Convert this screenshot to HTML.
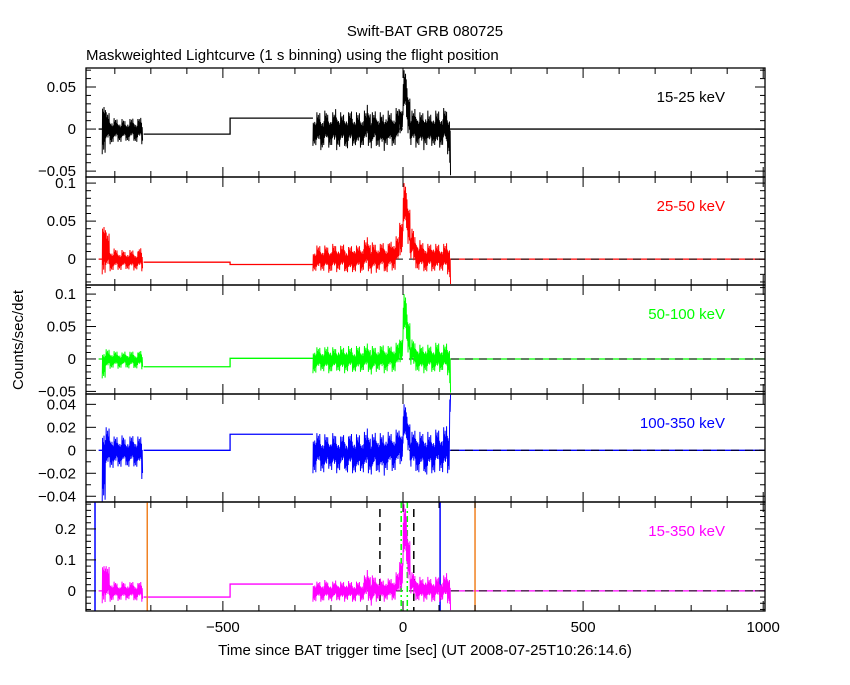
<!DOCTYPE html>
<html><head><meta charset="utf-8"><style>
body{margin:0;background:#fff;width:850px;height:680px;overflow:hidden}
svg text{font-family:"Liberation Sans",sans-serif;font-size:15px}
</style></head><body>
<svg id="chart" width="850" height="680" xmlns="http://www.w3.org/2000/svg">
<text x="425" y="36" text-anchor="middle">Swift-BAT GRB 080725</text>
<text x="86" y="60">Maskweighted Lightcurve (1 s binning) using the flight position</text>
<text x="0" y="0" text-anchor="middle" transform="translate(23,340) rotate(-90)">Counts/sec/det</text>
<text x="425" y="655" text-anchor="middle">Time since BAT trigger time [sec] (UT 2008-07-25T10:26:14.6)</text>
<g id="plots"></g>
</svg>
<script>
// time bins (10 s) for early and late segments
const earlyT = [-835,-825,-815,-805,-795,-785,-775,-765,-755,-745,-735,-725];
const lateT = [-250,-240,-230,-220,-210,-200,-190,-180,-170,-160,-150,-140,-130,-120,-110,-100,-90,-80,-70,-60,-50,-40,-30,-20,-10,0,10,20,30,40,50,60,70,80,90,100,110,120,130];
// panel 1 15-25 keV
const p1EarlyHi=[0.045,0.02,0.015,0.013,0.012,0.012,0.01,0.012,0.013,0.012,0.014,0.01];
const p1EarlyLo=[-0.03,-0.02,-0.018,-0.016,-0.015,-0.016,-0.014,-0.015,-0.014,-0.016,-0.015,-0.018];
const p1LateHi=[0.018,0.02,0.018,0.022,0.018,0.02,0.025,0.02,0.018,0.02,0.022,0.018,0.02,0.018,0.022,0.03,0.02,0.022,0.02,0.018,0.022,0.02,0.02,0.025,0.03,0.07,0.05,0.022,0.025,0.02,0.02,0.022,0.018,0.02,0.022,0.02,0.025,0.022,0.028];
const p1LateLo=[-0.02,-0.022,-0.025,-0.02,-0.022,-0.02,-0.025,-0.022,-0.02,-0.024,-0.022,-0.02,-0.025,-0.022,-0.02,-0.02,-0.024,-0.02,-0.022,-0.026,-0.02,-0.022,-0.02,-0.02,-0.005,0.015,-0.005,-0.02,-0.022,-0.02,-0.025,-0.02,-0.022,-0.02,-0.025,-0.022,-0.02,-0.03,-0.057];
// panel 2 25-50 keV
const p2EarlyHi=[0.063,0.035,0.015,0.014,0.012,0.012,0.01,0.012,0.012,0.01,0.015,0.01];
const p2EarlyLo=[-0.02,-0.02,-0.016,-0.015,-0.014,-0.015,-0.013,-0.014,-0.015,-0.014,-0.015,-0.016];
const p2LateHi=[0.015,0.018,0.016,0.018,0.016,0.02,0.018,0.018,0.02,0.016,0.018,0.02,0.018,0.02,0.025,0.03,0.022,0.02,0.02,0.022,0.02,0.024,0.028,0.03,0.06,0.1,0.08,0.04,0.03,0.025,0.022,0.02,0.02,0.022,0.02,0.018,0.02,0.022,0.018];
const p2LateLo=[-0.016,-0.018,-0.015,-0.016,-0.018,-0.016,-0.017,-0.015,-0.016,-0.018,-0.02,-0.017,-0.016,-0.018,-0.015,-0.016,-0.02,-0.018,-0.015,-0.016,-0.018,-0.017,-0.015,-0.01,0.005,0.035,0.02,0.0,-0.012,-0.015,-0.016,-0.017,-0.015,-0.016,-0.018,-0.015,-0.016,-0.02,-0.034];
// panel 3 50-100 keV
const p3EarlyHi=[0.02,0.015,0.013,0.012,0.012,0.01,0.012,0.011,0.012,0.01,0.013,0.01];
const p3EarlyLo=[-0.03,-0.018,-0.015,-0.014,-0.015,-0.014,-0.013,-0.015,-0.014,-0.015,-0.014,-0.016];
const p3LateHi=[0.02,0.018,0.016,0.018,0.02,0.018,0.016,0.02,0.018,0.02,0.018,0.016,0.02,0.018,0.02,0.025,0.02,0.018,0.02,0.022,0.02,0.02,0.022,0.025,0.04,0.1,0.07,0.03,0.025,0.022,0.02,0.022,0.02,0.02,0.025,0.02,0.022,0.025,0.03];
const p3LateLo=[-0.022,-0.02,-0.018,-0.02,-0.022,-0.02,-0.018,-0.02,-0.022,-0.02,-0.018,-0.02,-0.022,-0.02,-0.018,-0.02,-0.025,-0.02,-0.018,-0.022,-0.02,-0.018,-0.02,-0.015,-0.005,0.03,0.01,-0.01,-0.018,-0.02,-0.022,-0.02,-0.018,-0.02,-0.022,-0.02,-0.018,-0.025,-0.054];
// panel 4 100-350 keV
const p4EarlyHi=[0.032,0.02,0.015,0.012,0.012,0.013,0.01,0.012,0.013,0.012,0.012,0.01];
const p4EarlyLo=[-0.045,-0.02,-0.015,-0.016,-0.014,-0.015,-0.013,-0.015,-0.014,-0.015,-0.016,-0.025];
const p4LateHi=[0.018,0.015,0.012,0.014,0.012,0.015,0.013,0.012,0.014,0.012,0.015,0.013,0.014,0.012,0.016,0.02,0.014,0.016,0.015,0.014,0.016,0.015,0.016,0.018,0.02,0.04,0.03,0.016,0.018,0.016,0.015,0.016,0.014,0.015,0.018,0.016,0.02,0.022,0.025];
const p4LateLo=[-0.02,-0.016,-0.018,-0.02,-0.016,-0.018,-0.02,-0.018,-0.016,-0.02,-0.018,-0.02,-0.022,-0.018,-0.02,-0.02,-0.022,-0.018,-0.02,-0.022,-0.018,-0.016,-0.018,-0.016,-0.012,0.005,0.0,-0.015,-0.018,-0.02,-0.018,-0.022,-0.018,-0.02,-0.016,-0.018,-0.02,-0.02,0.049];
// panel 5 15-350 keV
const p5EarlyHi=[0.12,0.08,0.035,0.03,0.025,0.03,0.025,0.028,0.03,0.025,0.03,0.025];
const p5EarlyLo=[-0.04,-0.04,-0.035,-0.03,-0.032,-0.03,-0.03,-0.028,-0.03,-0.032,-0.03,-0.035];
const p5LateHi=[0.035,0.03,0.03,0.035,0.028,0.03,0.035,0.03,0.03,0.032,0.03,0.028,0.03,0.03,0.05,0.07,0.05,0.045,0.04,0.035,0.04,0.04,0.045,0.06,0.12,0.28,0.2,0.06,0.05,0.045,0.04,0.045,0.04,0.04,0.045,0.04,0.05,0.06,0.05];
const p5LateLo=[-0.035,-0.03,-0.035,-0.032,-0.03,-0.035,-0.03,-0.032,-0.035,-0.03,-0.032,-0.035,-0.03,-0.035,-0.03,-0.032,-0.05,-0.035,-0.03,-0.035,-0.03,-0.032,-0.03,-0.02,0.0,0.08,0.04,-0.01,-0.03,-0.032,-0.035,-0.03,-0.032,-0.035,-0.03,-0.035,-0.03,-0.04,-0.065];
// flat gap levels: [-720..-480], [-480..-250]
const gapLevels=[[-0.006,0.013],[-0.004,-0.007],[-0.012,0.001],[0,0.014],[-0.02,0.022]];
const bandNames=["15-25 keV","25-50 keV","50-100 keV","100-350 keV","15-350 keV"];
const yTickLabels=[["0.05","0","−0.05"],["0.1","0.05","0"],["0.1","0.05","0","−0.05"],["0.04","0.02","0","−0.02","−0.04"],["0.2","0.1","0"]];
const yTickVals=[[0.05,0,-0.05],[0.1,0.05,0],[0.1,0.05,0,-0.05],[0.04,0.02,0,-0.02,-0.04],[0.2,0.1,0]];
const xTickVals=[-500,0,500,1000];
const xTickLabels=["−500","0","500","1000"];
const markerTimes=[-855,-710,-64,30,-5,12,103,200];

const panels=[
 {top:68,bot:177,ymin:-0.057,ymax:0.0726,minor:0.01,color:"#000",eh:p1EarlyHi,el:p1EarlyLo,lh:p1LateHi,ll:p1LateLo},
 {top:177,bot:285,ymin:-0.034,ymax:0.108,minor:0.01,color:"#f00",eh:p2EarlyHi,el:p2EarlyLo,lh:p2LateHi,ll:p2LateLo},
 {top:285,bot:394,ymin:-0.054,ymax:0.114,minor:0.01,color:"#0f0",eh:p3EarlyHi,el:p3EarlyLo,lh:p3LateHi,ll:p3LateLo},
 {top:394,bot:502,ymin:-0.045,ymax:0.049,minor:0.01,color:"#00f",eh:p4EarlyHi,el:p4EarlyLo,lh:p4LateHi,ll:p4LateLo},
 {top:502,bot:611,ymin:-0.065,ymax:0.287,minor:0.02,color:"#f0f",eh:p5EarlyHi,el:p5EarlyLo,lh:p5LateHi,ll:p5LateLo}
];
const X0=86,X1=765,TMIN=-880,TMAX=1005;
function xs(t){return X0+(t-TMIN)/(TMAX-TMIN)*(X1-X0);}
const NS="http://www.w3.org/2000/svg";
const g=document.getElementById("plots");
function mk(tag,attrs,parent){const e=document.createElementNS(NS,tag);for(const k in attrs)e.setAttribute(k,attrs[k]);(parent||g).appendChild(e);return e;}
// fixed visual texture pattern (fraction of envelope reached by successive 1 s samples)
const texture=[1,0.45,0.7,0.35,0.85,0.5,0.6,0.3,0.95,0.4,0.55];
function band(p,ys,T,hi,lo,name){
  let d="";let c=0;
  for(let i=0;i<T.length;i++){
    const t0=T[i],t1=(i+1<T.length?T[i+1]:T[i]+3);
    const n=Math.max(2,Math.round(t1-t0));
    const mid=(hi[i]+lo[i])/2;
    for(let k=0;k<n;k++){
      const t=t0+(t1-t0)*k/n;
      const f=texture[c%texture.length];c++;
      const v=(c%2===0)?mid+(hi[i]-mid)*f:mid+(lo[i]-mid)*f;
      d+=(d?"L":"M")+xs(t).toFixed(2)+","+ys(v).toFixed(1);
    }
  }
  const e=mk("path",{d:d,fill:"none",stroke:p.color,"stroke-width":1});
  
  
}
panels.forEach((p,pi)=>{
  const ys=v=>p.bot-(v-p.ymin)/(p.ymax-p.ymin)*(p.bot-p.top);
  const pg=mk("g",{});
  
  
  const clip=mk("clipPath",{id:"c"+pi});
  mk("rect",{x:X0,y:p.top,width:X1-X0,height:p.bot-p.top},clip);
  const dg=mk("g",{"clip-path":"url(#c"+pi+")"});
  const gl=gapLevels[pi];
  const step=mk("path",{d:"M"+xs(-720)+","+ys(gl[0])+"H"+xs(-480)+"V"+ys(gl[1])+"H"+xs(-250)+"M"+xs(130)+","+ys(0)+"H"+xs(TMAX)+"M"+xs(-845)+","+ys(0)+"H"+xs(-835),fill:"none",stroke:p.color,"stroke-width":1.3},dg);
  
  
  // dashed zero line
  const z=mk("line",{x1:xs(-100),x2:xs(TMAX),y1:ys(0),y2:ys(0),stroke:"#000","stroke-dasharray":"8,6"},dg);
  
  
  if(pi===4){
    const cols=["#00f","#f08020","#000","#000","#0f0","#0f0","#00f","#f08020"];
    const dash=["","","8,6","8,6","6,3,2,3","6,3,2,3","",""];
    markerTimes.forEach((t,i)=>{
      const m=mk("line",{x1:xs(t),x2:xs(t),y1:(i>=2&&i<=3)?509:p.top,y2:p.bot,stroke:cols[i],"stroke-width":1.5,"stroke-dasharray":dash[i]},dg);
      
      
    });
  }
  band(p,ys,earlyT,p.eh,p.el,"early-series");
  band(p,ys,lateT,p.lh,p.ll,"late-series");
  const fr=mk("rect",{x:X0,y:p.top,width:X1-X0,height:p.bot-p.top,fill:"none",stroke:"#000","stroke-width":1.3});
  
  
  for(let t=-800;t<=1000;t+=100){
    const L=(t%500===0)?10:6;
    mk("line",{x1:xs(t),x2:xs(t),y1:p.bot,y2:p.bot-L,stroke:"#000"});
    mk("line",{x1:xs(t),x2:xs(t),y1:p.top,y2:p.top+L,stroke:"#000"});
  }
  for(let v=Math.ceil(p.ymin/p.minor)*p.minor;v<=p.ymax;v+=p.minor){
    const major=yTickVals[pi].some(q=>Math.abs(q-v)<1e-9);
    const L=major?10:5;
    mk("line",{x1:X0,x2:X0+L,y1:ys(v),y2:ys(v),stroke:"#000"});
    mk("line",{x1:X1,x2:X1-L,y1:ys(v),y2:ys(v),stroke:"#000"});
  }
  yTickVals[pi].forEach((v,i)=>{
    const t=mk("text",{x:76,y:ys(v)+5,"text-anchor":"end"});
    t.textContent=yTickLabels[pi][i];
    
    
  });
  const lb=mk("text",{x:725,y:p.top+34,"text-anchor":"end",fill:p.color});
  lb.textContent=bandNames[pi];
  
  
});
xTickVals.forEach((t,i)=>{
  const e=mk("text",{x:xs(t),y:632,"text-anchor":"middle"});
  e.textContent=xTickLabels[i];
  
  
});
</script>
</body></html>
